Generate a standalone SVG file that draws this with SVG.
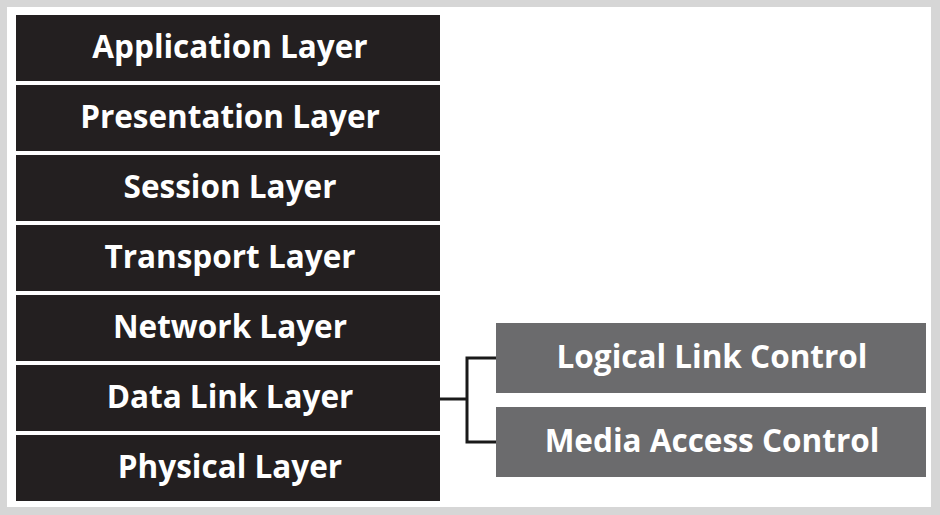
<svg xmlns="http://www.w3.org/2000/svg" width="940" height="515" viewBox="0 0 940 515">
<style>
.bg{fill:#d6d6d6}
.panel{fill:#ffffff}
.layer{fill:#231f20}
.sub{fill:#6b6b6d}
.t{font-family:"Open Sans","Liberation Sans",sans-serif;font-weight:700;font-size:31.5px;fill:#ffffff;text-anchor:middle;dominant-baseline:central}
.conn{fill:none;stroke:#1a1a1a;stroke-width:3}
</style>
<rect class="bg" x="0" y="0" width="940" height="515"/>
<rect class="panel" x="7" y="7" width="924" height="500"/>
<g id="application"><rect class="layer" x="16" y="15" width="424" height="66"/><text class="t" x="230" y="45">Application Layer</text></g>
<g id="presentation"><rect class="layer" x="16" y="85" width="424" height="66"/><text class="t" x="230" y="115">Presentation Layer</text></g>
<g id="session"><rect class="layer" x="16" y="155" width="424" height="66"/><text class="t" x="230" y="185">Session Layer</text></g>
<g id="transport"><rect class="layer" x="16" y="225" width="424" height="66"/><text class="t" x="230" y="255">Transport Layer</text></g>
<g id="network"><rect class="layer" x="16" y="295" width="424" height="66"/><text class="t" x="230" y="325">Network Layer</text></g>
<g id="datalink"><rect class="layer" x="16" y="365" width="424" height="66"/><text class="t" x="230" y="395">Data Link Layer</text></g>
<g id="physical"><rect class="layer" x="16" y="435" width="424" height="66"/><text class="t" x="230" y="465">Physical Layer</text></g>
<g id="llc"><rect class="sub" x="496" y="323" width="430" height="70"/><text class="t" x="712" y="355">Logical Link Control</text></g>
<g id="mac"><rect class="sub" x="496" y="407" width="430" height="70"/><text class="t" x="712" y="439">Media Access Control</text></g>
<g id="connectors">
<path class="conn" d="M440 399 H467"/>
<path class="conn" d="M496 358 H467 V442 H496"/>
</g>
</svg>
